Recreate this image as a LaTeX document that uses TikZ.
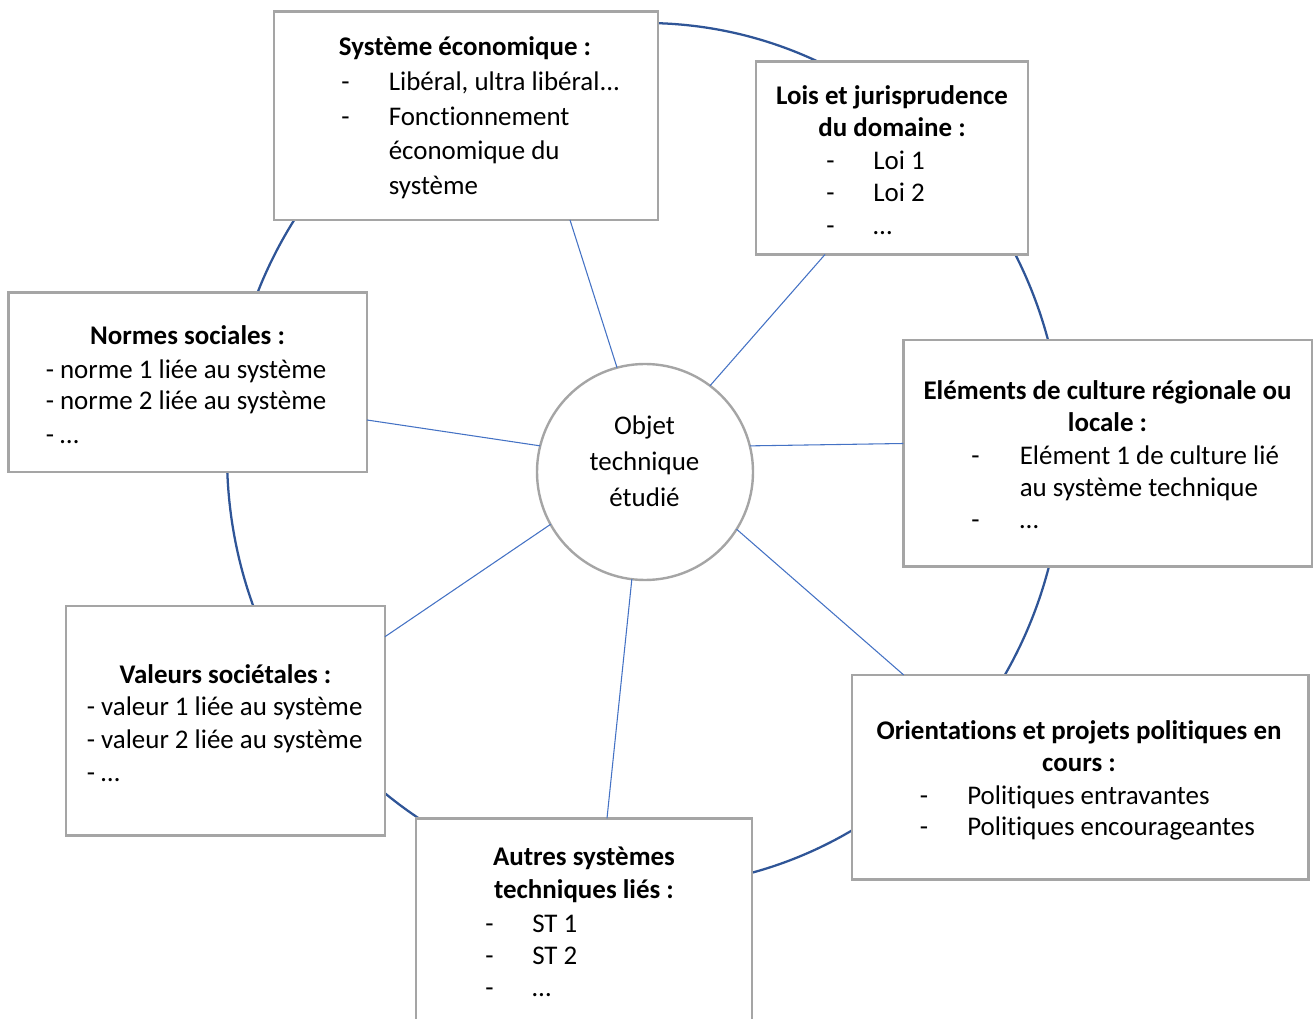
\documentclass[tikz,border=0pt]{standalone}
\usepackage{fontspec}
\setmainfont{Carlito}[Ligatures={NoCommon}]
\usetikzlibrary{fit,calc}
\definecolor{boxgray}{HTML}{A5A5A5}
\definecolor{ringblue}{HTML}{2F5597}
\definecolor{spokeblue}{HTML}{4472C4}
\begin{document}
\begin{tikzpicture}[x=0.75pt,y=-0.75pt,
  box/.style={draw=boxgray, line width=1.8pt, fill=white, inner sep=0pt, outer sep=0pt},
  spoke/.style={draw=spokeblue, line width=0.8pt},
  ring/.style={draw=ringblue, line width=1.7pt},
  txt/.style={inner sep=0pt, font=\fontsize{20.2}{24}\selectfont},
  ttl/.style={inner sep=0pt, font=\fontsize{20.2}{24}\selectfont\bfseries, anchor=base},
  itm/.style={txt, anchor=base west},
  ctr/.style={txt, anchor=base}]
\useasboundingbox (0,0) rectangle (1314,1019);

% outer ring linking the surrounding domains
\draw[ring] (645,455) ellipse [x radius=418, y radius=432];

% central object
\node[box, circle, minimum size=216*0.75pt] (c) at (645,472) {};

% surrounding boxes
\node[box, fit={(274,11.7) (658,220)}] (sys) {};
\node[box, fit={(756,61.7) (1028,254.5)}] (lois) {};
\node[box, fit={(8.3,292.7) (367,472)}] (norm) {};
\node[box, fit={(903.3,340) (1311.7,566.7)}] (elem) {};
\node[box, fit={(66,606) (385,835.5)}] (val) {};
\node[box, fit={(851.7,675) (1308.3,879.3)}] (ori) {};
\node[box, fit={(416,818.3) (751.7,1040)}] (aut) {};

% spokes from the centre to each box
\draw[spoke] (c.105) -- ($(sys.south west)+(296,0)$);
\draw[spoke] (c.53) -- ($(lois.south west)+(69,0)$);
\draw[spoke] (c.166) -- ($(norm.north east)+(0,127.3)$);
\draw[spoke] (c.14) -- ($(elem.north west)+(0,103.5)$);
\draw[spoke] (c.209) -- ($(val.north east)+(0,30.7)$);
\draw[spoke] (c.-32) -- ($(ori.north west)+(52,0)$);
\draw[spoke] (c.263.5) -- ($(aut.north west)+(191,0)$);

\begin{scope}[yshift=-1.1pt]
% centre text
\node[ctr] (c1) at (644.5,433.3) {Objet};
\node[ctr] (c2) at (644.5,469.3) {technique};
\node[ctr] (c3) at (644.5,505) {étudié};

% Système économique
\node[ttl] (sysT) at (465,54) {Système économique :};
\node[itm] (sysD1) at (341,89.3) {-};
\node[itm] (sysA) at (388.5,89.3) {Libéral, ultra libéral...};
\node[itm] (sysD2) at (341,124) {-};
\node[itm] (sysB) at (388.5,124) {Fonctionnement};
\node[itm] (sysC) at (388.5,158.5) {économique du};
\node[itm] (sysE) at (388.5,193) {système};

% Lois et jurisprudence
\node[ttl] (loisT1) at (892,103.3) {Lois et jurisprudence};
\node[ttl] (loisT2) at (892,135) {du domaine :};
\node[itm] (loisD1) at (826,168.3) {-};
\node[itm] (loisA) at (873,168.3) {Loi 1};
\node[itm] (loisD2) at (826,200) {-};
\node[itm] (loisB) at (873,200) {Loi 2};
\node[itm] (loisD3) at (826,232.7) {-};
\node[itm] (loisC) at (873,232.7) {…};

% Normes sociales
\node[ttl] (normT) at (187.5,343.3) {Normes sociales :};
\node[itm] (normA) at (45.5,376.7) {- norme 1 liée au système};
\node[itm] (normB) at (45.5,408.3) {- norme 2 liée au système};
\node[itm] (normC) at (45.5,441.7) {- …};

% Eléments de culture
\node[ttl] (elemT1) at (1107.5,398.3) {Eléments de culture régionale ou};
\node[ttl] (elemT2) at (1107.5,430) {locale :};
\node[itm] (elemD1) at (971,463.3) {-};
\node[itm] (elemA) at (1019.5,463.3) {Elément 1 de culture lié};
\node[itm] (elemB) at (1019.5,495) {au système technique};
\node[itm] (elemD2) at (971,526.7) {-};
\node[itm] (elemC) at (1019.5,526.7) {…};

% Valeurs sociétales
\node[ttl] (valT) at (225.5,682.3) {Valeurs sociétales :};
\node[itm] (valA) at (86.5,714) {- valeur 1 liée au système};
\node[itm] (valB) at (86.5,746.7) {- valeur 2 liée au système};
\node[itm] (valC) at (86.5,780) {- …};

% Orientations et projets politiques
\node[ttl] (oriT1) at (1079,738.3) {Orientations et projets politiques en};
\node[ttl] (oriT2) at (1079,770) {cours :};
\node[itm] (oriD1) at (919.5,802.7) {-};
\node[itm] (oriA) at (967,802.7) {Politiques entravantes};
\node[itm] (oriD2) at (919.5,834) {-};
\node[itm] (oriB) at (967,834) {Politiques encourageantes};

% Autres systèmes techniques
\node[ttl] (autT1) at (584,864) {Autres systèmes};
\node[ttl] (autT2) at (584,897.3) {techniques liés :};
\node[itm] (autD1) at (485,930.7) {-};
\node[itm] (autA) at (532,930.7) {ST 1};
\node[itm] (autD2) at (485,963.3) {-};
\node[itm] (autB) at (532,963.3) {ST 2};
\node[itm] (autD3) at (485,995) {-};
\node[itm] (autC) at (532,995) {…};
\end{scope}
\end{tikzpicture}
\end{document}
